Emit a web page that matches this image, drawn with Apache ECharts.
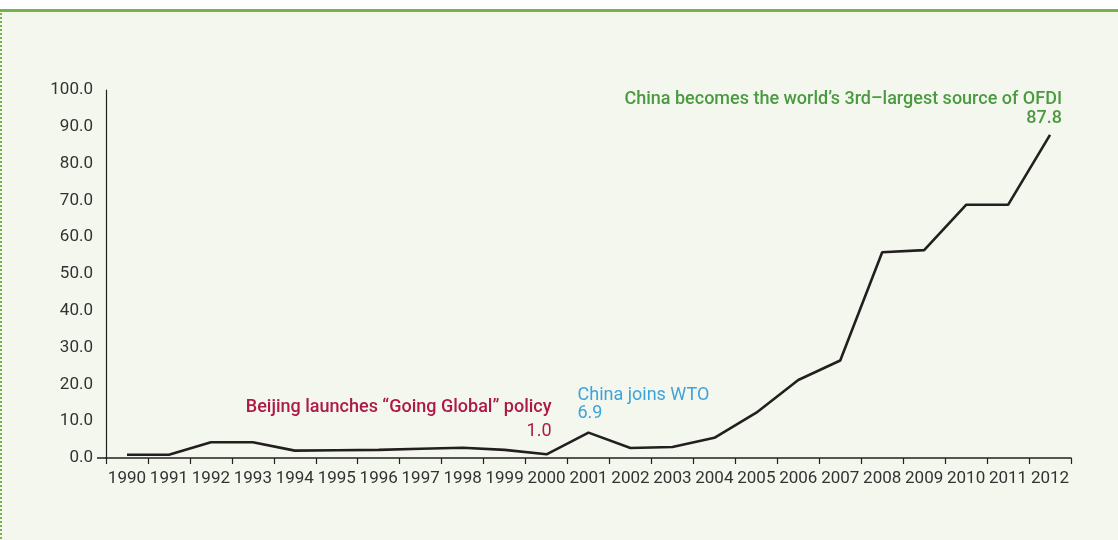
<!DOCTYPE html>
<html>
<head>
<meta charset="utf-8">
<script src="https://cdn.jsdelivr.net/npm/echarts@6/dist/echarts.min.js"></script>
<style>
  html, body { margin: 0; padding: 0; background: #ffffff; }
  #chart { position: absolute; left: 0; top: 0; width: 1118px; height: 540px; }
</style>
</head>
<body>
<div id="chart"></div>
<script>
// China outward FDI flows, US$ billion
const years = ['1990','1991','1992','1993','1994','1995','1996','1997','1998','1999','2000','2001',
               '2002','2003','2004','2005','2006','2007','2008','2009','2010','2011','2012'];
const ofdi = [0.9, 0.9, 4.3, 4.3, 2.0, 2.1, 2.2, 2.5, 2.8, 2.2, 1.0, 6.9,
              2.7, 3.0, 5.5, 12.3, 21.2, 26.5, 55.9, 56.5, 68.8, 68.8, 87.8];
const yTicks = { min: 0, max: 100, interval: 10 };

// Annotated events: year -> caption
const events = [
  { year: '2000', text: 'Beijing launches \u201cGoing Global\u201d policy', color: '#ad1a47', side: 'right' },
  { year: '2001', text: 'China joins WTO', color: '#3fa3da', side: 'left' },
  { year: '2012', text: 'China becomes the world\u2019s 3rd\u2013largest source of OFDI', color: '#4b9a41', side: 'right' }
];

const FONT = 'Roboto, "Noto Sans", sans-serif';
const labelStyles = {
  '2000': { offset: [5, -10], lineHeight: 24, titleWeight: 500, valueWeight: 400 },
  '2001': { offset: [-11, -10], lineHeight: 18, titleWeight: 400, valueWeight: 400 },
  '2012': { offset: [12, -6], lineHeight: 19, titleWeight: 500, valueWeight: 500 }
};

const seriesData = ofdi.map((v, i) => {
  const ev = events.find(e => e.year === years[i]);
  if (!ev) return v;
  const st = labelStyles[ev.year];
  const base = { color: ev.color, fontFamily: FONT, fontSize: 18, lineHeight: st.lineHeight, align: ev.side };
  return {
    value: v,
    label: {
      show: true,
      position: 'top',
      distance: 0,
      align: ev.side,
      verticalAlign: 'bottom',
      offset: st.offset,
      lineHeight: st.lineHeight,
      formatter: '{t|' + ev.text + '}\n{v|' + v.toFixed(1) + '}',
      rich: {
        t: Object.assign({ fontWeight: st.titleWeight }, base),
        v: Object.assign({ fontWeight: st.valueWeight }, base)
      }
    }
  };
});

const chart = echarts.init(document.getElementById('chart'), null, { renderer: 'canvas' });
chart.setOption({
  backgroundColor: '#f4f7ee',
  animation: false,
  grid: { left: 106, right: 47, top: 90, bottom: 82, containLabel: false },
  xAxis: {
    type: 'category',
    data: years,
    boundaryGap: true,
    axisLine: { lineStyle: { color: '#222', width: 1.5 } },
    axisTick: { show: true, length: 6, lineStyle: { color: '#222', width: 1.2 } },
    axisLabel: { color: '#333', fontFamily: FONT, fontSize: 17, margin: 12, interval: 0 }
  },
  yAxis: {
    type: 'value',
    min: yTicks.min,
    max: yTicks.max,
    interval: yTicks.interval,
    axisLine: { show: true, lineStyle: { color: '#222', width: 1.2 } },
    axisTick: { show: false },
    splitLine: { show: false },
    axisLabel: { color: '#333', fontFamily: FONT, fontSize: 17, margin: 13, padding: [6, 0, 0, 0], formatter: v => v.toFixed(1) }
  },
  series: [{
    type: 'line',
    data: seriesData,
    showSymbol: true,
    showAllSymbol: true,
    symbol: 'circle',
    symbolSize: 1,
    lineStyle: { color: '#231f20', width: 2.6 },
    itemStyle: { color: 'rgba(0,0,0,0)' },
    emphasis: { disabled: true }
  }]
});

// Frame decoration plus short lead-in of the base line to the left of the y axis
const baseY = chart.convertToPixel({ yAxisIndex: 0 }, 0);
chart.setOption({
  graphic: [
    { type: 'rect', shape: { x: 0, y: 0, width: 1118, height: 9 }, style: { fill: '#ffffff' }, silent: true },
    { type: 'line', shape: { x1: 0, y1: 10.5, x2: 1118, y2: 10.5 }, style: { stroke: '#78b348', lineWidth: 3 }, silent: true },
    { type: 'line', shape: { x1: 1, y1: 9, x2: 1, y2: 540 }, style: { stroke: '#78b348', lineWidth: 2, lineDash: [2, 2] }, silent: true },
    { type: 'line', shape: { x1: 97, y1: baseY, x2: 106, y2: baseY }, style: { stroke: '#222', lineWidth: 1.5 }, silent: true }
  ]
});
</script>
</body>
</html>
